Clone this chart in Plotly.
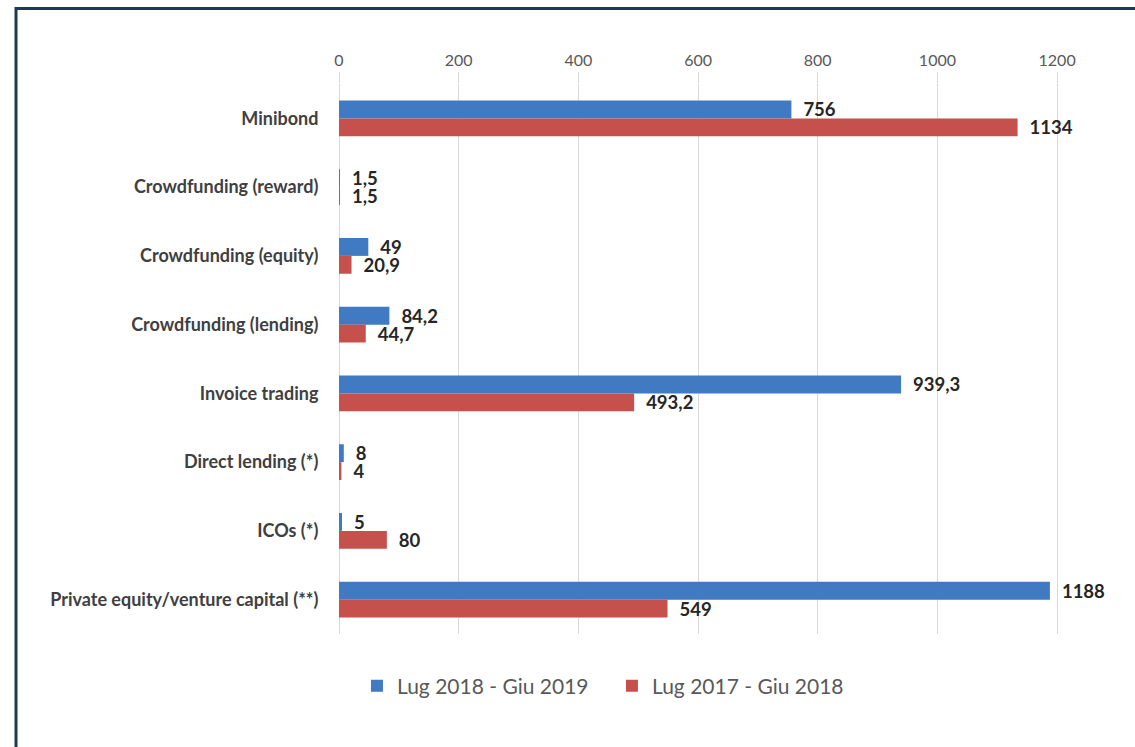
import plotly.graph_objects as go

categories = [
    "Minibond",
    "Crowdfunding (reward)",
    "Crowdfunding (equity)",
    "Crowdfunding (lending)",
    "Invoice trading",
    "Direct lending (*)",
    "ICOs (*)",
    "Private equity/venture capital (**)",
]
series_names = ["Lug 2018 - Giu 2019", "Lug 2017 - Giu 2018"]
values_2018_2019 = [756, 1.5, 49, 84.2, 939.3, 8, 5, 1188]
values_2017_2018 = [1134, 1.5, 20.9, 44.7, 493.2, 4, 80, 549]
x_ticks = [0, 200, 400, 600, 800, 1000, 1200]

colors = ["#3F7AC2", "#C5504C"]


def fmt(v):
    return "\u00a0\u00a0" + f"{v:g}".replace(".", ",")


fig = go.Figure()
for name, vals, col in zip(series_names, [values_2018_2019, values_2017_2018], colors):
    fig.add_trace(go.Bar(
        y=categories, x=vals, name=name, orientation="h",
        marker=dict(color=col, line=dict(width=0)),
        text=[fmt(v) for v in vals], textposition="outside",
        textfont=dict(family="Lato", size=18.5, color="#262626", weight="bold"),
        constraintext="none", cliponaxis=False,
    ))

fig.update_layout(
    width=1135, height=747,
    margin=dict(l=339, r=42, t=84, b=113),
    paper_bgcolor="white", plot_bgcolor="white",
    barmode="group", bargap=0.48, bargroupgap=0,
    font=dict(family="Lato", color="#595959"),
    showlegend=True,
    legend=dict(orientation="h", x=0.362, xanchor="center", y=-0.0945, yanchor="middle",
                font=dict(size=21, color="#595959"), traceorder="normal",
                itemwidth=30, entrywidth=210),
    xaxis=dict(side="top", range=[0, 1260], tickvals=x_ticks,
               showgrid=True, gridcolor="#D9D9D9", gridwidth=1,
               zeroline=True, zerolinecolor="#D9D9D9", zerolinewidth=1,
               showline=False, ticks="outside", ticklen=11, tickcolor="#D9D9D9",
               tickfont=dict(size=16, color="#595959"),
               fixedrange=True),
    yaxis=dict(autorange="reversed", showgrid=False, showline=False,
               ticks="outside", ticklen=16, tickcolor="rgba(0,0,0,0)",
               tickfont=dict(size=18, color="#404040", weight="bold"),
               fixedrange=True),
    shapes=[dict(type="rect", xref="paper", yref="paper",
                 x0=(16 - 339) / 754, x1=1.2, y0=-0.4, y1=(634 - 8.5) / 550,
                 line=dict(color="#1F3B50", width=3), fillcolor="rgba(0,0,0,0)",
                 layer="below")],
)

fig.write_html("out.html")
